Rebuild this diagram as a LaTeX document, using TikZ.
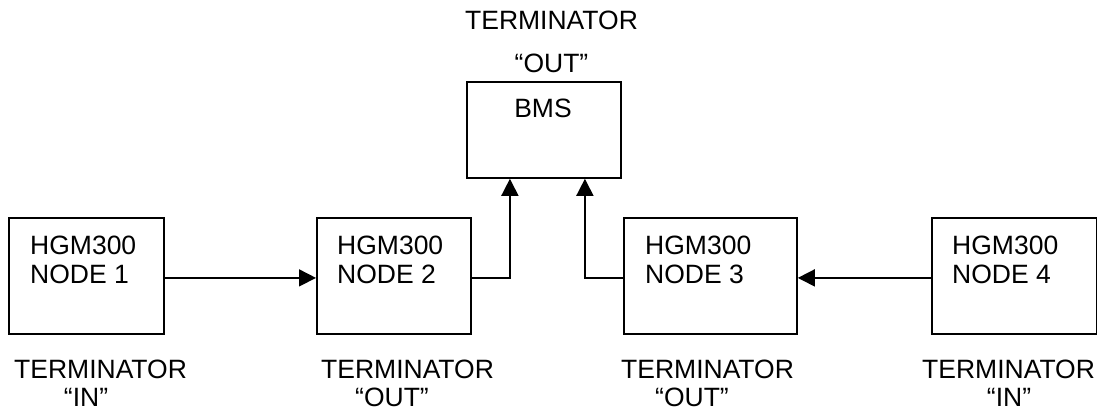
\documentclass[tikz,border=0pt]{standalone}
\usepackage{fontspec}
\setmainfont{Liberation Sans}
\usetikzlibrary{arrows.meta}
\begin{document}
\begin{tikzpicture}[x=1pt,y=-1pt,
  box/.style={draw,line width=1.8pt,inner sep=0pt,anchor=north west,minimum height=116pt},
  txt/.style={inner sep=0pt,font=\fontsize{26.5}{30}\selectfont},
  arr/.style={line width=1.6pt,-{Triangle[length=17pt,width=17pt]}}]
\useasboundingbox (0,0) rectangle (1097,410);
% boxes
\node[box,minimum width=155pt] (n1) at (8,217) {};
\node[box,minimum width=154pt] (n2) at (316,217) {};
\node[box,minimum width=173pt] (n3) at (623,217) {};
\node[box,minimum width=165pt] (n4) at (931,217) {};
\node[box,minimum width=154pt,minimum height=96pt] (bms) at (466,81) {};
% box texts
\node[txt,anchor=base west] (n1a) at (30,254) {HGM300};
\node[txt,anchor=base west] (n1b) at (30,283) {NODE 1};
\node[txt,anchor=base west] (n2a) at (337,254) {HGM300};
\node[txt,anchor=base west] (n2b) at (337,283) {NODE 2};
\node[txt,anchor=base west] (n3a) at (645,254) {HGM300};
\node[txt,anchor=base west] (n3b) at (645,283) {NODE 3};
\node[txt,anchor=base west] (n4a) at (952,254) {HGM300};
\node[txt,anchor=base west] (n4b) at (952,283) {NODE 4};
\node[txt,anchor=base] (bmst) at (543,117) {BMS};
% top terminator
\node[txt,anchor=base] (tt1) at (551.5,29) {TERMINATOR};
\node[txt,anchor=base] (tt2) at (551.5,72) {“OUT”};
% bottom terminators
\node[txt,anchor=base west] (t1a) at (14,378) {TERMINATOR};
\node[txt,anchor=base] (t1b) at (86,406) {“IN”};
\node[txt,anchor=base west] (t2a) at (321,378) {TERMINATOR};
\node[txt,anchor=base] (t2b) at (392,406) {“OUT”};
\node[txt,anchor=base west] (t3a) at (621,378) {TERMINATOR};
\node[txt,anchor=base] (t3b) at (692,406) {“OUT”};
\node[txt,anchor=base west] (t4a) at (922,378) {TERMINATOR};
\node[txt,anchor=base] (t4b) at (1009,406) {“IN”};
% connectors
\draw[arr] ([yshift=-2pt]n1.east) -- ([yshift=-2pt]n2.west);
\draw[line width=2.8pt] ([xshift=-65pt,yshift=-2pt]n2.west) -- ([xshift=-14pt,yshift=-2pt]n2.west);
\draw[arr] ([yshift=-2pt]n2.east) -| ([xshift=-34pt]bms.south);
\draw[arr] ([yshift=-2pt]n3.west) -| ([xshift=41pt]bms.south);
\draw[arr] ([yshift=-2pt]n4.west) -- ([yshift=-2pt]n3.east);
\end{tikzpicture}
\end{document}
